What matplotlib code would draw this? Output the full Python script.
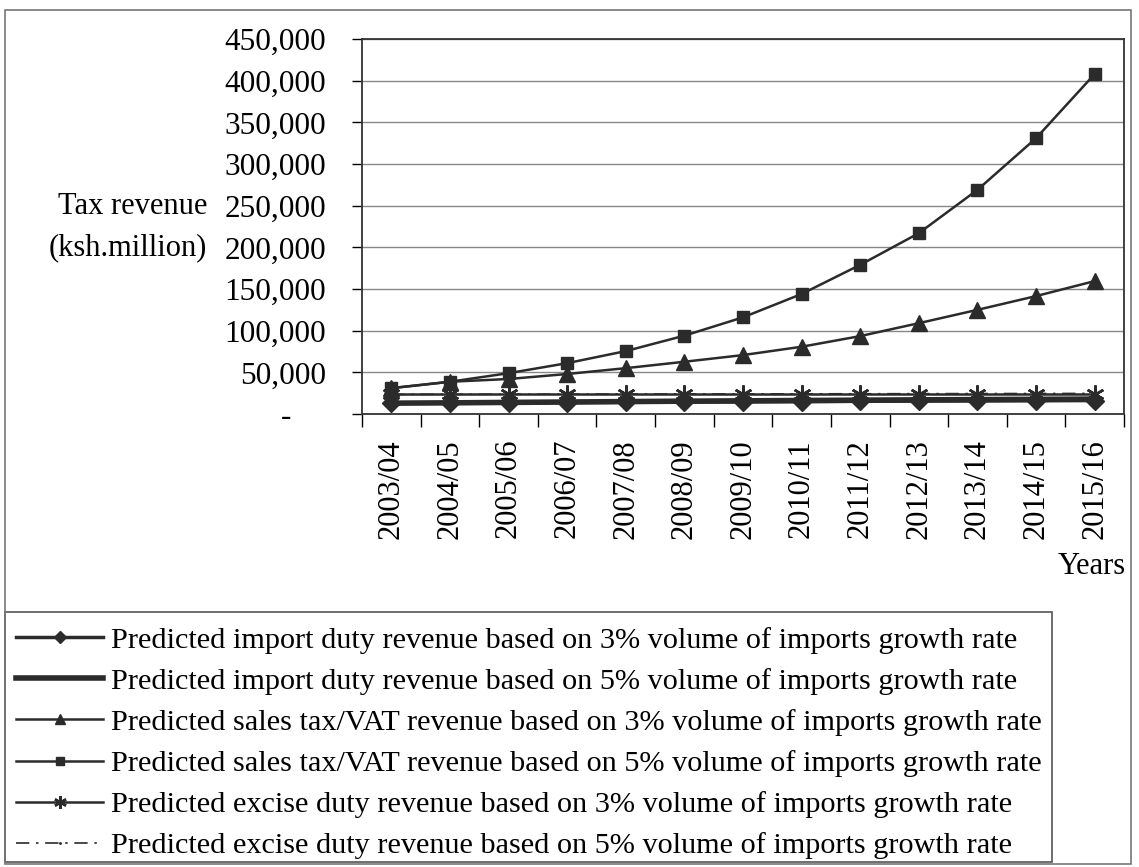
import numpy as np
import matplotlib
matplotlib.use("Agg")
from matplotlib import pyplot as plt
from matplotlib.patches import Rectangle

plt.rcParams['font.family'] = ['Liberation Serif', 'DejaVu Serif']

years = ['2003/04', '2004/05', '2005/06', '2006/07', '2007/08', '2008/09', '2009/10',
         '2010/11', '2011/12', '2012/13', '2013/14', '2014/15', '2015/16']

# predicted revenues, ksh million
import_3 = [13000, 13200, 13400, 13700, 14000, 14300, 14600, 14900, 15200, 15500, 15700, 15900, 16100]
import_5 = [13000, 13400, 13900, 14400, 14900, 15400, 15800, 16200, 16600, 17000, 17300, 17600, 17900]
sales_3 = [31000, 38700, 42000, 48000, 55000, 62700, 70700, 80700, 93500, 109000, 125000, 141500, 159500]
sales_5 = [31000, 38700, 49000, 61000, 75500, 94000, 116000, 144000, 179000, 217000, 269000, 331000, 408000]
excise_3 = [24000, 24000, 24000, 24000, 24000, 24000, 24000, 24000, 24000, 24000, 24000, 24000, 24000]
excise_5 = [23500, 23600, 23700, 23800, 23900, 24000, 24100, 24200, 24300, 24400, 24500, 24600, 24700]

labels = ['Predicted import duty revenue based on 3% volume of imports growth rate',
          'Predicted import duty revenue based on 5% volume of imports growth rate',
          'Predicted sales tax/VAT revenue based on 3% volume of imports growth rate',
          'Predicted sales tax/VAT revenue based on 5% volume of imports growth rate',
          'Predicted excise duty revenue based on 3% volume of imports growth rate',
          'Predicted excise duty revenue based on 5% volume of imports growth rate']

ink = '#2b2b2b'
fig = plt.figure(figsize=(11.39, 8.67), dpi=100)
ax = fig.add_axes([362/1139, 1-414/867, (1124-362)/1139, (414-39)/867])

x = np.arange(len(years))
l1, = ax.plot(x, import_3, color=ink, lw=2.5, marker='D', ms=9, zorder=5)
l2, = ax.plot(x, import_5, color=ink, lw=4, zorder=4)
l3, = ax.plot(x, sales_3, color=ink, lw=1.8, marker='^', ms=11, zorder=5)
l4, = ax.plot(x, sales_5, color=ink, lw=1.8, marker='s', ms=9, zorder=5)
l5, = ax.plot(x, excise_3, color=ink, lw=1.8, marker=(6, 2, 0), ms=13, mew=1.8, zorder=3)
l6, = ax.plot(x, excise_5, color=ink, lw=1.2, ls=(0, (8, 4, 1.5, 4)), marker='.', ms=3, zorder=2)

ax.set_xlim(-0.5, len(years) - 0.5)
ax.set_ylim(0, 450000)
yt = np.arange(0, 450001, 50000)
ax.set_yticks(yt)
ax.set_yticklabels(['-'] + ['{:,}'.format(v) for v in yt[1:]], fontsize=22.5)
ax.yaxis.grid(True, color='#888888', lw=1)
ax.set_axisbelow(True)
ax.tick_params(axis='y', direction='out', length=7, width=1, pad=19)
for lbl in ax.get_yticklabels():
    lbl.set_horizontalalignment('right')
ax.get_yticklabels()[0].set_x(-0.045)

ax.set_xticks(x)
ax.set_xticklabels(years, rotation=90, fontsize=22)
ax.set_xticks(np.arange(-0.5, len(years)), minor=True)
ax.tick_params(axis='x', which='major', length=0, pad=18)
ax.tick_params(axis='x', which='minor', direction='out', length=9, width=1)
for s in ax.spines.values():
    s.set_color('#333333')
    s.set_linewidth(1.3)

fig.text(207/1139, 1-207/867, 'Tax revenue', ha='right', va='center', fontsize=22)
fig.text(207/1139, 1-248/867, '(ksh.million)', ha='right', va='center', fontsize=22)
fig.text(1126/1139, 1-567/867, 'Years', ha='right', va='center', fontsize=22)

leg = fig.legend([l1, l2, l3, l4, l5, l6], labels, loc='upper left',
                 bbox_to_anchor=(12/1139, 1-623/867), fontsize=21.8, frameon=False,
                 handlelength=2.9, handletextpad=0.25,
                 borderpad=0.12, labelspacing=0.46, borderaxespad=0, markerscale=0.7)

# legend box and outer frame of the whole graphic
fig.patches.append(Rectangle((5/1139, 1-862/867), 1047/1139, 250/867, transform=fig.transFigure,
                             fill=False, edgecolor='#555555', lw=1.2))
fig.patches.append(Rectangle((5/1139, 3/867), 1126/1139, 854/867, transform=fig.transFigure,
                             fill=False, edgecolor='#777777', lw=1.2))

fig.savefig('out.png', dpi=100)
